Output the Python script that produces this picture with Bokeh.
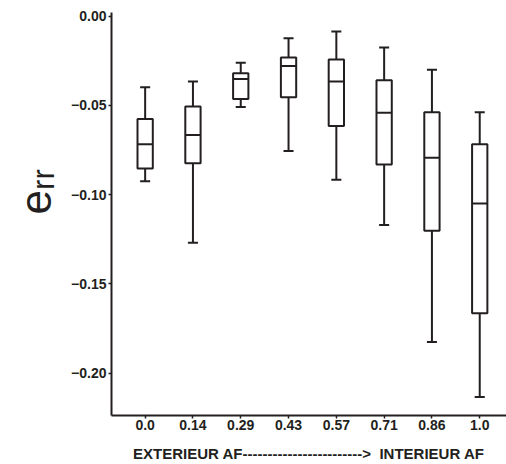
from bokeh.plotting import figure
from bokeh.models import (ColumnDataSource, FixedTicker, Range1d, Title,
                          CustomJSTickFormatter)
from bokeh.embed import file_html
from bokeh.resources import INLINE

categories = ["0.0", "0.14", "0.29", "0.43", "0.57", "0.71", "0.86", "1.0"]
whisker_high = [-0.0398, -0.0366, -0.0262, -0.0124, -0.0087, -0.0176, -0.0301, -0.0539]
q3 = [-0.0576, -0.0507, -0.0320, -0.0232, -0.0243, -0.0360, -0.0539, -0.0718]
median = [-0.0718, -0.0666, -0.0353, -0.0280, -0.0366, -0.0541, -0.0794, -0.1049]
q1 = [-0.0854, -0.0824, -0.0465, -0.0455, -0.0616, -0.0831, -0.1202, -0.1664]
whisker_low = [-0.0925, -0.1270, -0.0509, -0.0755, -0.0917, -0.1170, -0.1826, -0.2133]
y_ticks = [-0.20, -0.15, -0.10, -0.05, 0.00]

x_label = "EXTERIEUR AF------------------------>\u00a0\u00a0INTERIEUR AF"
y_label = "e\u1d63\u1d63"

INK = "#231f20"
BOX_W = 0.32
CAP_W = 0.21

xs = list(range(len(categories)))
src = ColumnDataSource(dict(
    x=xs,
    left=[x - BOX_W / 2 for x in xs], right=[x + BOX_W / 2 for x in xs],
    cap_l=[x - CAP_W / 2 for x in xs], cap_r=[x + CAP_W / 2 for x in xs],
    hi=whisker_high, q3=q3, med=median, q1=q1, lo=whisker_low,
))

p = figure(width=506, height=464, output_backend="svg", toolbar_location=None,
           x_range=Range1d(-0.704, 7.56), y_range=Range1d(-0.2237, 0.002),
           min_border_left=107, min_border_right=0, min_border_top=12,
           min_border_bottom=48)
p.outline_line_color = None
p.xgrid.visible = False
p.ygrid.visible = False
p.background_fill_color = "white"

# whiskers
p.segment(x0="x", y0="q3", x1="x", y1="hi", source=src, line_color=INK, line_width=2)
p.segment(x0="x", y0="q1", x1="x", y1="lo", source=src, line_color=INK, line_width=2)
p.segment(x0="cap_l", y0="hi", x1="cap_r", y1="hi", source=src, line_color=INK, line_width=2)
p.segment(x0="cap_l", y0="lo", x1="cap_r", y1="lo", source=src, line_color=INK, line_width=2)
# boxes
p.quad(left="left", right="right", top="q3", bottom="q1", source=src,
       fill_color="white", line_color=INK, line_width=2)
p.segment(x0="left", y0="med", x1="right", y1="med", source=src, line_color=INK, line_width=2)

for ax in (p.xaxis[0], p.yaxis[0]):
    ax.axis_line_color = INK
    ax.axis_line_width = 2
    ax.major_tick_line_color = INK
    ax.major_tick_line_width = 1.5
    ax.major_tick_out = 3
    ax.major_tick_in = 0
    ax.minor_tick_line_color = None
    ax.major_label_text_font = "Liberation Sans"
    ax.major_label_text_font_style = "bold"
    ax.major_label_text_font_size = "14px"
    ax.major_label_text_color = INK

p.xaxis.ticker = FixedTicker(ticks=xs)
p.xaxis.major_label_overrides = {i: c for i, c in enumerate(categories)}
p.xaxis.major_label_standoff = 1
p.xaxis.axis_label = x_label
p.xaxis.axis_label_text_font = "Liberation Sans"
p.xaxis.axis_label_text_font_style = "bold"
p.xaxis.axis_label_text_font_size = "15px"
p.xaxis.axis_label_text_color = INK
p.xaxis.axis_label_standoff = 12

p.yaxis.ticker = FixedTicker(ticks=y_ticks)
p.yaxis.formatter = CustomJSTickFormatter(code="""
    if (Math.abs(tick) < 1e-9) { return "0.00"; }
    return (tick < 0 ? "\\u2212" : "") + Math.abs(tick).toFixed(2);
""")
p.yaxis.major_label_standoff = 2

# y-axis label e_rr as a rotated side title
p.add_layout(Title(text=y_label, align="left", offset=201, standoff=17,
                   text_font="Liberation Sans", text_font_style="normal",
                   text_font_size="44px", text_color=INK), "left")

open("out.html", "w").write(file_html(p, INLINE))
